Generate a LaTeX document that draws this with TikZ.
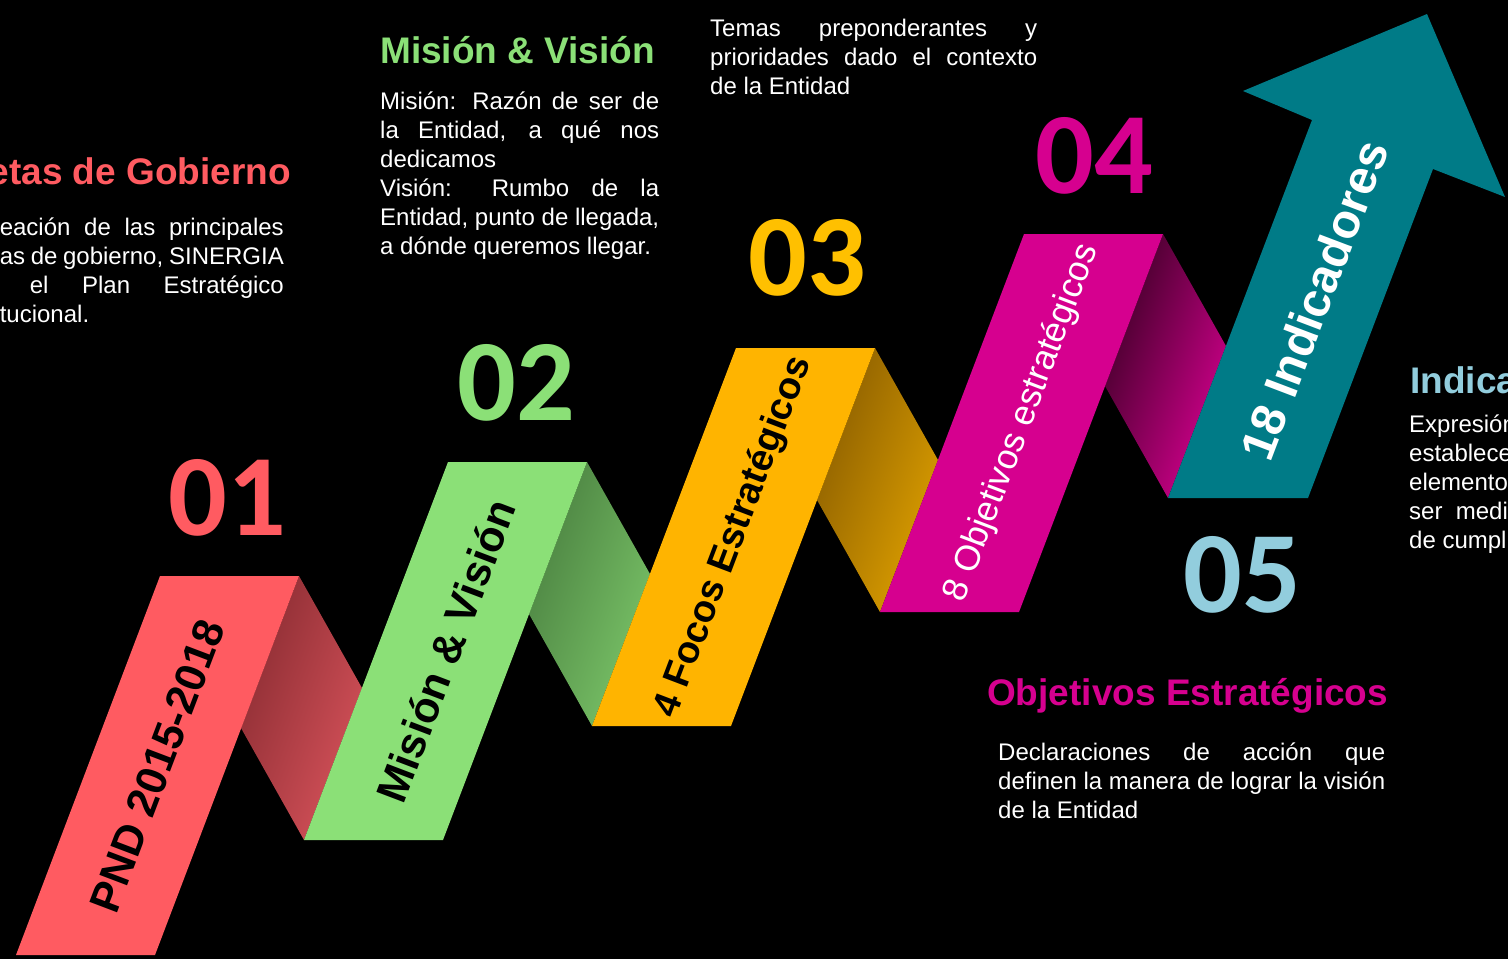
\documentclass[tikz,border=0pt]{standalone}
\usepackage{fontspec}
\setmainfont{Liberation Sans}
\newfontfamily\numfont{Carlito}
\usepackage{xcolor}
\usetikzlibrary{positioning}

\definecolor{pndred}{RGB}{255,91,97}
\definecolor{pnddark}{RGB}{138,44,50}
\definecolor{pndlight}{RGB}{214,82,90}
\definecolor{mvgreen}{RGB}{139,224,119}
\definecolor{mvdark}{RGB}{74,128,64}
\definecolor{mvlight}{RGB}{122,196,104}
\definecolor{focorange}{RGB}{255,180,0}
\definecolor{focdark}{RGB}{138,93,0}
\definecolor{foclight}{RGB}{222,160,0}
\definecolor{focnum}{RGB}{255,192,0}
\definecolor{objmag}{RGB}{214,0,143}
\definecolor{objdark}{RGB}{58,0,36}
\definecolor{indteal}{RGB}{0,123,135}
\definecolor{indblue}{RGB}{146,205,221}

\newcommand{\jline}[1]{\makebox[\linewidth][s]{#1}}

\begin{document}
\begin{tikzpicture}[
    x=1pt, y=-1pt,
    fold/.style 2 args={
        left color=#1,
        right color=#2,
        shading angle=69
    },
    num/.style={
        inner sep=0,
        font=\numfont\bfseries\fontsize{116}{116}\selectfont
    },
    band/.style={
        inner sep=0,
        rotate=69.2,
        font=\bfseries\fontsize{43}{43}\selectfont
    },
    title/.style={
        inner sep=0,
        anchor=base west,
        font=\bfseries\fontsize{37}{37}\selectfont
    },
    body/.style={
        inner sep=0,
        anchor=base west,
        text=white,
        font=\fontsize{24}{29}\selectfont
    }
]

\clip (0,0) rectangle (1508,959);
\fill[black] (0,0) rectangle (1508,959);

% Folds between the bands
\shade[fold={pnddark}{pndlight}] (299,576) -- (362,688) -- (304,840) -- (241,728) -- cycle;
\shade[fold={mvdark}{mvlight}] (587,462) -- (650,574) -- (592,726) -- (529,614) -- cycle;
\shade[fold={focdark}{foclight}] (875,348) -- (938,460) -- (880,612) -- (817,500) -- cycle;
\shade[fold={objdark}{objmag}] (1163,234) -- (1226,346) -- (1168,498) -- (1105,386) -- cycle;

% Bands
\fill[pndred] (160,576) -- (299,576) -- (155,955) -- (16,955) -- cycle;
\fill[mvgreen] (448,462) -- (587,462) -- (443,840) -- (304,840) -- cycle;
\fill[focorange] (736,348) -- (875,348) -- (731,726) -- (592,726) -- cycle;
\fill[objmag] (1024,234) -- (1163,234) -- (1019,612) -- (880,612) -- cycle;
\fill[indteal] (1168,498) -- (1312,120) -- (1243,91) -- (1427,14) -- (1505,197)
    -- (1433,169) -- (1308,498) -- cycle;

% Band labels
\node[band] (pnd) at (157,766) {PND 2015-2018};
\node[band] (mv) at (446,651) {Misión \& Visión};
\node[band, font=\bfseries\fontsize{38}{38}\selectfont] (focos) at (734,537) {4 Focos Estratégicos};
\node[band, text=white, font=\fontsize{35.5}{36}\selectfont] (obj) at (1022,423) {8 Objetivos estratégicos};
\node[band, text=white, font=\bfseries\fontsize{48}{48}\selectfont] (ind) at (1314,300) {18 Indicadores};

% Numbers
\node[num, text=pndred] (n01) at (227,498) {01};
\node[num, text=mvgreen] (n02) at (516,383) {02};
\node[num, text=focnum] (n03) at (807,258) {03};
\node[num, text=objmag] (n04) at (1094,156) {04};
\node[num, text=indblue] (n05) at (1242,575) {05};

% Metas de Gobierno
\node[title, text=pndred, anchor=base east] (gob_title) at (291,184) {etas de Gobierno};
\node[body, below=51pt of gob_title.base east, anchor=base east, xshift=-7pt] (gob_txt)
    {\parbox[t]{284pt}{\jline{eación de las principales}\\
    \jline{as de gobierno, SINERGIA}\\
    \hspace*{30pt}\makebox[254pt][s]{el Plan Estratégico}\\
    tucional.}};

% Mision & Vision
\node[title, text=mvgreen] (mv_title) at (380,63) {Misión \& Visión};
\node[body, below=46pt of mv_title.base west, anchor=base west] (mv_txt)
    {\parbox[t]{279pt}{\jline{Misión: Razón de ser de}\\
    \jline{la Entidad, a qué nos}\\
    dedicamos\\
    \jline{Visión: Rumbo de la}\\
    \jline{Entidad, punto de llegada,}\\
    a dónde queremos llegar.}};

% Focos
\node[body] (foc_txt) at (710,36)
    {\parbox[t]{327pt}{\jline{Temas preponderantes y}\\
    \jline{prioridades dado el contexto}\\
    de la Entidad}};

% Objetivos
\node[title, text=objmag] (obj_title) at (987,705) {Objetivos Estratégicos};
\node[body, below=55pt of obj_title.base west, anchor=base west, xshift=11pt] (obj_txt)
    {\parbox[t]{387pt}{\jline{Declaraciones de acción que}\\
    \jline{definen la manera de lograr la visión}\\
    de la Entidad}};

% Indicadores
\node[title, text=indblue] (ind_title) at (1410,393) {Indica};
\node[body, below=39pt of ind_title.base west, anchor=base west, xshift=-1pt] (ind_txt)
    {\parbox[t]{200pt}{Expresión\\
    establece\\
    elemento\\
    ser\ \ medi\\
    de cumpli}};

\end{tikzpicture}
\end{document}
